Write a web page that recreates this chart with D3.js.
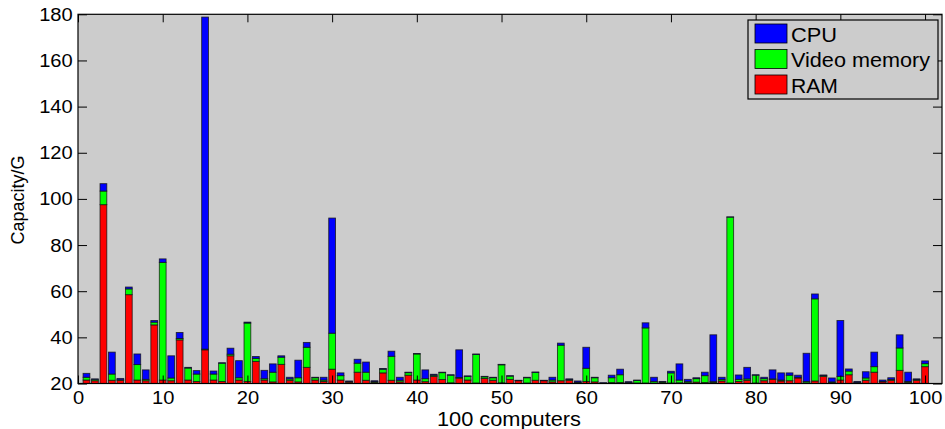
<!DOCTYPE html>
<html><head><meta charset="utf-8">
<script src="https://cdn.jsdelivr.net/npm/d3@7"></script>
<style>
body{margin:0;background:#fff;}
text{font-family:"Liberation Sans",Arial,sans-serif;fill:#000;}
</style></head>
<body><svg id="c" width="945" height="429"></svg>
<script>
const computers = d3.range(1, 101);
const seriesNames = ["RAM", "Video memory", "CPU"];
const seriesColors = ["#ff0000", "#00ff00", "#0000ff"];
const ram = [21.5,21.2,97.5,21.4,21.4,58.5,21.5,21.2,45.4,21.5,21.2,38.9,21.5,20.9,34.6,21.5,20.9,32.0,21.5,20.9,
29.6,21.5,20.7,28.3,21.4,20.7,27.0,21.5,20.9,26.2,21.5,20.6,24.9,21.4,20.5,24.6,21.4,20.7,23.6,21.5,
20.8,23.1,21.7,20.3,22.3,21.5,20.2,22.2,21.4,20.3,21.8,21.2,20.2,21.4,21.2,20.7,21.2,21.4,20.4,20.9,
20.7,20.1,20.4,20.4,20.3,20.2,20.2,20.2,20.3,20.2,20.3,20.3,20.6,20.4,20.4,21.1,20.2,20.9,21.4,20.2,
21.2,21.8,21.1,21.2,22.4,20.3,21.1,23.1,20.4,21.5,23.8,20.3,21.4,24.9,20.7,21.4,25.7,20.5,21.4,27.3];
const videoMemory = [1.2,0.6,5.9,2.7,0.2,2.5,6.7,0.6,1.2,51.0,1.2,0.6,5.2,3.2,0.3,2.6,7.9,0.7,1.0,25.3,
1.3,0.6,4.2,3.1,0.6,1.8,8.7,1.0,0.6,15.6,1.9,0.2,3.9,3.5,0.3,1.6,10.4,0.7,1.1,11.3,
1.3,0.5,3.0,3.3,0.3,1.6,12.4,0.7,1.1,7.8,1.4,0.1,2.3,3.4,0.1,0.8,15.4,0.4,0.2,5.7,
1.8,0.1,2.1,3.4,0.2,1.1,23.9,0.7,0.4,4.4,1.2,0.5,1.5,3.0,0.4,0.7,71.9,0.9,0.6,3.4,
0.9,0.2,0.4,2.4,0.3,0.6,35.6,0.4,0.3,1.6,1.6,0.2,1.0,2.4,0.2,0.4,9.7,0.4,0.4,1.3];
const cpu = [1.7,0.2,3.2,9.5,0.6,0.8,4.6,4.1,0.7,1.5,9.6,2.6,0.3,1.5,143.9,1.3,0.2,2.6,7.4,0.4,
0.8,3.6,3.6,0.6,0.7,7.6,2.1,0.2,1.2,49.9,1.2,0.3,1.7,4.4,0.4,0.3,2.2,1.3,0.2,0.2,
3.8,0.4,0.2,0.2,12.0,0.2,0.2,0.2,0.2,0.2,0.2,0.1,0.2,0.2,0.1,1.2,0.9,0.2,0.5,9.1,
0.2,0.1,1.1,2.4,0.3,0.2,2.2,1.8,0.2,0.7,7.0,1.0,0.4,1.5,20.3,0.9,0.1,1.9,5.0,0.2,
0.6,3.9,3.1,1.0,0.9,12.2,2.1,0.2,1.7,24.2,0.9,0.4,2.7,6.3,0.6,0.7,5.7,4.0,0.2,1.2];
const xTicks = d3.range(0, 101, 10);
const yTicks = d3.range(20, 181, 20);

const svg = d3.select("#c");
const L = 78, R = 942, T = 14.3, B = 383.5;
const x = d3.scaleLinear().domain([0, 102]).range([L, R]);
const y = d3.scaleLinear().domain([20, 180]).range([B, T]);

svg.append("defs").append("clipPath").attr("id","clip")
  .append("rect").attr("x",L).attr("y",T).attr("width",R-L).attr("height",B-T);

svg.append("rect").attr("x",L).attr("y",T).attr("width",R-L).attr("height",B-T).attr("fill","#cccccc");

const rows = computers.map((c,i)=>({c, RAM:ram[i], "Video memory":videoMemory[i], CPU:cpu[i]}));
const stacked = d3.stack().keys(seriesNames)(rows);
const bw = (x(0.8) - x(0));
const g = svg.append("g").attr("clip-path","url(#clip)");
stacked.forEach((s, si) => {
  g.selectAll(null).data(s).enter().append("rect")
    .attr("x", d => x(d.data.c) - bw/2)
    .attr("width", bw)
    .attr("y", d => y(d[1]))
    .attr("height", d => Math.max(0, y(d[0]) - y(d[1])))
    .attr("fill", seriesColors[si])
    .attr("stroke", "#111").attr("stroke-width", 0.9).attr("stroke-opacity", 0.8);
});

function styleAxis(sel, sx){
  sel.select(".domain").remove();
  sel.selectAll("line").attr("stroke","#000");
  sel.selectAll("text").attr("font-size", 19).attr("font-family","Liberation Sans, Arial, sans-serif")
    .attr("transform", `scale(${sx},1)`);
}
svg.append("g").attr("transform",`translate(0,${B})`)
  .call(d3.axisBottom(x).tickValues(xTicks).tickFormat(d3.format("d")).tickSizeInner(-8).tickSizeOuter(0).tickPadding(7))
  .call(s=>styleAxis(s,1.06));
svg.append("g").attr("transform",`translate(0,${T})`)
  .call(d3.axisTop(x).tickValues(xTicks).tickFormat("").tickSizeInner(-8).tickSizeOuter(0))
  .call(s=>styleAxis(s,1));
svg.append("g").attr("transform",`translate(${L},0)`)
  .call(d3.axisLeft(y).tickValues(yTicks).tickFormat(d3.format("d")).tickSizeInner(-9).tickSizeOuter(0).tickPadding(5))
  .call(s=>styleAxis(s,1.06));
svg.append("g").attr("transform",`translate(${R},0)`)
  .call(d3.axisRight(y).tickValues(yTicks).tickFormat("").tickSizeInner(-9).tickSizeOuter(0))
  .call(s=>styleAxis(s,1));

svg.append("rect").attr("x",L).attr("y",T).attr("width",R-L).attr("height",B-T)
  .attr("fill","none").attr("stroke","#000").attr("stroke-width",1.2);

svg.append("text").attr("x", 437).attr("y", 426)
  .attr("font-size", 20).attr("textLength",144).attr("lengthAdjust","spacingAndGlyphs").text("100 computers");
svg.append("text").attr("transform","translate(24,200) rotate(-90)").attr("text-anchor","middle")
  .attr("font-size", 18).text("Capacity/G");

// legend
const lg = svg.append("g");
lg.append("rect").attr("x",748).attr("y",20).attr("width",190).attr("height",79)
  .attr("fill","#cccccc").attr("stroke","#000").attr("stroke-width",1.2);
const legendItems = ["CPU","Video memory","RAM"];
const legendColors = ["#0000ff","#00ff00","#ff0000"];
const legendLens = [46, 139, 47];
legendItems.forEach((name,i)=>{
  const yy = 24 + i*25.5;
  lg.append("rect").attr("x",755).attr("y",yy).attr("width",32).attr("height",19)
    .attr("fill",legendColors[i]).attr("stroke","#000").attr("stroke-width",0.8);
  lg.append("text").attr("x",791).attr("y",yy+17.5).attr("font-size",19.5)
    .attr("textLength", legendLens[i]).attr("lengthAdjust","spacingAndGlyphs").text(name);
});
</script></body></html>
